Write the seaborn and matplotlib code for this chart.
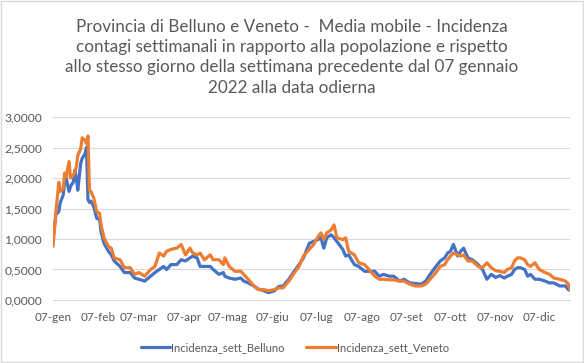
import matplotlib
matplotlib.use("Agg")
import matplotlib.pyplot as plt
import seaborn as sns
import pandas as pd
from matplotlib.patches import Rectangle

# giorni trascorsi dal 07-gen-2022 (campioni)
giorni = [0, 2, 4, 5, 7, 8, 9, 11, 12, 14, 15, 16, 17, 19, 20, 22, 23, 24, 25, 26,
          28, 30, 32, 33, 35, 38, 40, 42, 46, 49, 53, 56, 59, 63, 67, 70, 73, 76, 78, 81,
          85, 88, 91, 94, 96, 99, 101, 104, 108, 110, 114, 117, 118, 121, 125, 129, 131, 134, 138, 141,
          145, 148, 152, 155, 158, 162, 165, 169, 172, 176, 179, 182, 184, 186, 188, 191, 193, 195, 199, 201,
          203, 207, 210, 214, 217, 221, 224, 227, 231, 234, 238, 241, 245, 249, 253, 256, 259, 263, 266, 269,
          271, 273, 275, 278, 280, 282, 285, 288, 292, 295, 298, 301, 304, 307, 310, 312, 315, 317, 319, 321,
          324, 326, 328, 331, 334, 338, 341, 344, 348, 352, 354, 355]

belluno = [1.00, 1.40, 1.45, 1.60, 1.72, 1.94, 2.00, 1.78, 1.86, 1.94, 2.13, 2.00, 1.80, 2.24, 2.32, 2.40, 2.50, 1.65, 1.60, 1.62,
           1.53, 1.34, 1.32, 1.12, 0.93, 0.80, 0.74, 0.64, 0.55, 0.45, 0.45, 0.36, 0.34, 0.31, 0.39, 0.45, 0.50, 0.55, 0.50, 0.58,
           0.58, 0.66, 0.64, 0.69, 0.72, 0.69, 0.55, 0.55, 0.55, 0.50, 0.42, 0.45, 0.39, 0.36, 0.34, 0.36, 0.31, 0.28, 0.23, 0.18,
           0.15, 0.12, 0.15, 0.22, 0.23, 0.34, 0.45, 0.58, 0.69, 0.93, 0.96, 0.99, 1.02, 0.85, 1.02, 1.07, 1.02, 0.96, 0.83, 0.72,
           0.74, 0.58, 0.55, 0.47, 0.47, 0.47, 0.39, 0.42, 0.39, 0.39, 0.31, 0.34, 0.28, 0.27, 0.26, 0.31, 0.42, 0.55, 0.64, 0.69,
           0.77, 0.80, 0.91, 0.72, 0.80, 0.85, 0.69, 0.66, 0.58, 0.50, 0.34, 0.42, 0.37, 0.40, 0.36, 0.39, 0.42, 0.50, 0.53, 0.53,
           0.50, 0.39, 0.42, 0.34, 0.34, 0.31, 0.28, 0.28, 0.23, 0.23, 0.17, 0.16]

veneto = [0.88, 1.45, 1.93, 1.78, 1.83, 2.08, 2.02, 2.27, 2.00, 2.05, 2.10, 2.18, 2.37, 2.48, 2.66, 2.62, 2.56, 2.69, 1.80, 1.78,
          1.67, 1.45, 1.42, 1.23, 1.02, 0.88, 0.85, 0.69, 0.66, 0.53, 0.53, 0.42, 0.45, 0.39, 0.50, 0.55, 0.77, 0.72, 0.80, 0.83,
          0.85, 0.91, 0.74, 0.85, 0.77, 0.74, 0.77, 0.66, 0.74, 0.66, 0.66, 0.58, 0.69, 0.55, 0.47, 0.47, 0.42, 0.34, 0.23, 0.17,
          0.17, 0.15, 0.17, 0.20, 0.20, 0.31, 0.42, 0.55, 0.72, 0.83, 0.91, 1.04, 1.10, 0.99, 1.10, 1.15, 1.23, 1.02, 0.99, 1.02,
          0.80, 0.74, 0.61, 0.58, 0.50, 0.39, 0.34, 0.34, 0.33, 0.33, 0.31, 0.31, 0.26, 0.23, 0.23, 0.26, 0.34, 0.45, 0.55, 0.58,
          0.66, 0.72, 0.77, 0.74, 0.72, 0.74, 0.64, 0.64, 0.55, 0.53, 0.61, 0.53, 0.48, 0.47, 0.45, 0.50, 0.53, 0.64, 0.69, 0.69,
          0.66, 0.58, 0.55, 0.61, 0.50, 0.45, 0.42, 0.36, 0.34, 0.31, 0.26, 0.17]

serie = ["Incidenza_sett_Belluno", "Incidenza_sett_Veneto"]
colori = ["#4472C4", "#ED7D31"]
mesi = ["07-gen", "07-feb", "07-mar", "07-apr", "07-mag", "07-giu",
        "07-lug", "07-ago", "07-set", "07-ott", "07-nov", "07-dic"]
y_ticks = [0, 0.5, 1.0, 1.5, 2.0, 2.5, 3.0]

inizio = pd.Timestamp("2022-01-07")
date = [inizio + pd.Timedelta(days=g) for g in giorni]
df = pd.concat([
    pd.DataFrame({"data": date, "valore": belluno, "serie": serie[0]}),
    pd.DataFrame({"data": date, "valore": veneto, "serie": serie[1]}),
])

sns.set_style("white")
plt.rcParams["font.family"] = ["Lato", "DejaVu Sans"]
grigio = "#595959"

fig = plt.figure(figsize=(5.84, 3.63), dpi=100)
ax = fig.add_axes([0.0908, 0.1736, 0.885, 0.504])
sns.lineplot(data=df, x="data", y="valore", hue="serie", palette=colori,
             linewidth=2.3, ax=ax, legend=False)

ax.set_ylim(0, 3.0)
ax.set_yticks(y_ticks)
ax.set_yticklabels([f"{v:.4f}".replace(".", ",") for v in y_ticks])
ax.set_xlim(inizio, inizio + pd.Timedelta(days=giorni[-1]))
ax.set_xticks([pd.Timestamp(2022, m, 7) for m in range(1, 13)])
ax.set_xticklabels(mesi)
ax.set_xlabel("")
ax.set_ylabel("")
ax.grid(axis="y", color="#d9d9d9", linewidth=0.8)
ax.set_axisbelow(True)
for s in ["top", "right", "left"]:
    ax.spines[s].set_visible(False)
ax.spines["bottom"].set_color("#d9d9d9")
ax.tick_params(axis="x", length=4, color="#d9d9d9", labelsize=8.5, labelcolor=grigio, pad=5)
ax.tick_params(axis="y", length=0, labelsize=8.7, labelcolor=grigio, pad=8)

fig.text(0.5, 0.948, "Provincia di Belluno e Veneto -  Media mobile - Incidenza\n"
         "contagi settimanali in rapporto alla popolazione e rispetto\n"
         "allo stesso giorno della settimana precedente dal 07 gennaio\n"
         "2022 alla data odierna",
         ha="center", va="top", fontsize=12.3, color=grigio, linespacing=1.33)

handles = [plt.Line2D([], [], color=c, linewidth=2.3) for c in colori]
fig.legend(handles, serie, loc="center", bbox_to_anchor=(0.505, 0.043), ncol=2,
           frameon=False, fontsize=8.1, handlelength=2.6, handletextpad=0.1,
           columnspacing=1.9, labelcolor=grigio)

fig.add_artist(Rectangle((0.001, 0.002), 0.997, 0.995, transform=fig.transFigure,
                         fill=False, edgecolor="#d9d9d9", linewidth=1))
fig.savefig("out.png", dpi=100)
